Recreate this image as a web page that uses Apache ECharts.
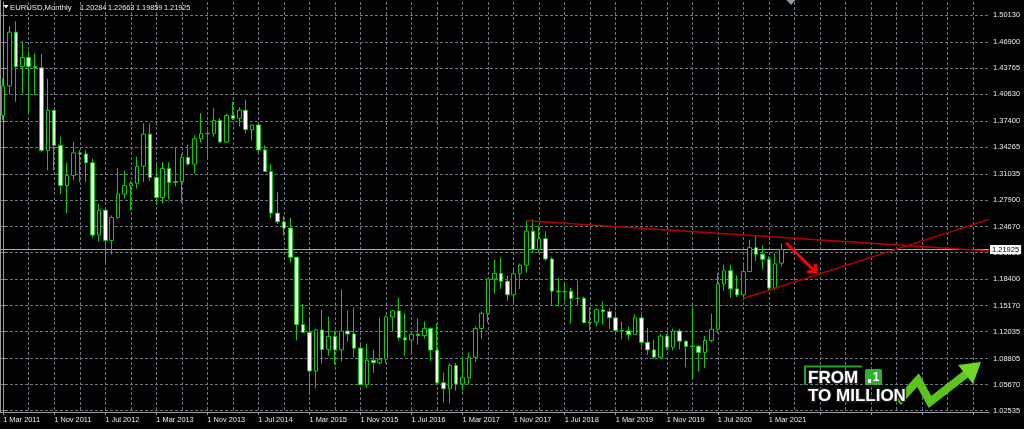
<!DOCTYPE html>
<html><head><meta charset="utf-8">
<script src="https://cdn.jsdelivr.net/npm/echarts@6/dist/echarts.min.js"></script>
<style>html,body{margin:0;padding:0;background:#000}#c{width:1024px;height:429px}</style>
</head><body><div id="c"></div>
<script>
// ---- data (EURUSD monthly, Mar 2011 .. May 2021) ----
const MONTHS = ['Jan','Feb','Mar','Apr','May','Jun','Jul','Aug','Sep','Oct','Nov','Dec'];
const SYMBOL = 'EURUSD,Monthly';
const O = [1.3806,1.4160,1.4807,1.4391,1.4502,1.4393,1.4378,1.3385,1.3865,1.3445,
 1.2961,1.3084,1.3354,1.3341,1.3236,1.2366,1.2666,1.2302,1.2577,1.2860,1.2960,1.2988,
 1.3193,1.3580,1.3058,1.2818,1.3167,1.2998,1.3010,1.3300,1.3220,1.3525,1.3585,1.3590,
 1.3745,1.3486,1.3804,1.3769,1.3868,1.3634,1.3690,1.3390,1.3131,1.2630,1.2525,1.2450,
 1.2100,1.1290,1.1196,1.0731,1.1224,1.0989,1.1147,1.0985,1.1212,1.1177,1.1006,1.0566,
 1.0860,1.0830,1.0873,1.1380,1.1454,1.1130,1.1104,1.1174,1.1157,1.1241,1.0983,1.0590,
 1.0517,1.0796,1.0575,1.0650,1.0896,1.1243,1.1425,1.1838,1.1905,1.1812,1.1647,1.1901,
 1.2005,1.2413,1.2193,1.2323,1.2078,1.1692,1.1683,1.1689,1.1603,1.1606,1.1313,1.1318,
 1.1466,1.1446,1.1371,1.1218,1.1214,1.1170,1.1370,1.1076,1.0985,1.0898,1.1151,1.1018,
 1.1212,1.1090,1.1027,1.1030,1.0954,1.1098,1.1234,1.1778,1.1936,1.1719,1.1646,1.1927,
 1.2215,1.2136,1.2075,1.1729,1.20284];
const H = [1.4249,1.4882,1.4940,1.4699,1.4578,1.4550,1.4548,1.4247,1.3874,1.3548,
 1.3234,1.3487,1.3386,1.3384,1.3284,1.2747,1.2693,1.2600,1.3172,1.3140,1.3016,1.3308,
 1.3711,1.3711,1.3203,1.3243,1.3243,1.3416,1.3345,1.3452,1.3568,1.3832,1.3622,1.3893,
 1.3775,1.3825,1.3967,1.3906,1.3993,1.3700,1.3700,1.3445,1.3222,1.2887,1.2600,1.2571,
 1.2105,1.1535,1.1387,1.1240,1.1467,1.1386,1.1216,1.1713,1.1460,1.1495,1.1043,1.1058,
 1.0986,1.1375,1.1405,1.1464,1.1616,1.1427,1.1186,1.1366,1.1328,1.1257,1.1300,1.0710,
 1.0828,1.0829,1.0906,1.0951,1.1268,1.1445,1.1846,1.2070,1.2092,1.1880,1.1961,1.2023,
 1.2537,1.2555,1.2476,1.2413,1.2097,1.1852,1.1791,1.1734,1.1815,1.1625,1.1500,1.1486,
 1.1570,1.1489,1.1448,1.1324,1.1265,1.1412,1.1412,1.1250,1.1109,1.1179,1.1176,1.1240,
 1.1239,1.1097,1.1495,1.1040,1.1154,1.1422,1.1908,1.2011,1.2011,1.1880,1.2004,1.2310,
 1.2349,1.2243,1.2113,1.2150,1.22663];
const L = [1.3748,1.4057,1.3968,1.4070,1.3837,1.4051,1.3362,1.3145,1.3146,1.2858,
 1.2624,1.3026,1.3001,1.3002,1.2334,1.2288,1.2042,1.2132,1.2562,1.2804,1.2661,1.2926,
 1.3000,1.3019,1.2750,1.2746,1.2796,1.2953,1.2755,1.3200,1.3105,1.3483,1.3295,1.3548,
 1.3477,1.3477,1.3750,1.3673,1.3590,1.3503,1.3367,1.3130,1.2571,1.2500,1.2358,1.2035,
 1.1098,1.1186,1.0462,1.0520,1.0818,1.0915,1.0808,1.0847,1.1087,1.0896,1.0562,1.0523,
 1.0710,1.0809,1.0822,1.1217,1.1097,1.0912,1.0952,1.1046,1.1122,1.0852,1.0569,1.0352,
 1.0341,1.0494,1.0494,1.0570,1.0839,1.1118,1.1312,1.1662,1.1717,1.1575,1.1554,1.1718,
 1.1916,1.2151,1.2155,1.2055,1.1510,1.1508,1.1574,1.1301,1.1525,1.1302,1.1216,1.1269,
 1.1289,1.1234,1.1176,1.1110,1.1107,1.1168,1.1028,1.0926,1.0879,1.0879,1.0981,1.0981,
 1.0992,1.0778,1.0636,1.0727,1.0767,1.1075,1.1185,1.1696,1.1612,1.1622,1.1603,1.1924,
 1.2054,1.1952,1.1704,1.1704,1.19859];
const C = [1.4160,1.4807,1.4391,1.4502,1.4393,1.4378,1.3385,1.3865,1.3445,1.2961,
 1.3084,1.3354,1.3341,1.3236,1.2366,1.2666,1.2302,1.2577,1.2860,1.2960,1.2988,1.3193,
 1.3580,1.3058,1.2818,1.3167,1.2998,1.3010,1.3300,1.3220,1.3525,1.3585,1.3590,1.3745,
 1.3486,1.3804,1.3769,1.3868,1.3634,1.3690,1.3390,1.3131,1.2630,1.2525,1.2450,1.2100,
 1.1290,1.1196,1.0731,1.1224,1.0989,1.1147,1.0985,1.1212,1.1177,1.1006,1.0566,1.0860,
 1.0830,1.0873,1.1380,1.1454,1.1130,1.1104,1.1174,1.1157,1.1241,1.0983,1.0590,1.0517,
 1.0796,1.0575,1.0650,1.0896,1.1243,1.1425,1.1838,1.1905,1.1812,1.1647,1.1901,1.2005,
 1.2413,1.2193,1.2323,1.2078,1.1692,1.1683,1.1689,1.1603,1.1606,1.1313,1.1318,1.1466,
 1.1446,1.1371,1.1218,1.1214,1.1170,1.1370,1.1076,1.0985,1.0898,1.1151,1.1018,1.1212,
 1.1090,1.1027,1.1030,1.0954,1.1098,1.1234,1.1778,1.1936,1.1719,1.1646,1.1927,1.2215,
 1.2136,1.2075,1.1729,1.2020,1.21925];
const yTicks = [1.02535,1.05670,1.08805,1.12035,1.15170,1.18400,1.21535,1.24670,
 1.27900,1.31035,1.34265,1.37400,1.40630,1.43765,1.46900,1.50130];
const Y_MIN = 1.02379, Y_MAX = 1.51694;
const SLOTS = 155;                       // 123 months of data + empty future space
const vGrid = [4,8,12,16,20,24,28,32,36,40,44,48,52,56,60,64,68,72,76,80,84,88,92,96,
 100,104,108,112,116,120,124,128,132,136,140,144,148,152];
// trend lines drawn on the chart: [month index, price]
const upperTrend = [[82, 1.2539], [154.5, 1.2174]];
const lowerTrend = [[116, 1.1603], [154.5, 1.2555]];
const arrowShaft = [[122.7, 1.2274], [127.3, 1.1925]];
const arrowHead = [[126.0, 1.1925], [127.3, 1.1925], [127.3, 1.2021]];

// ---- build ----
const N = O.length;
const categories = [];
for (let i = 0; i < SLOTS; i++) {
  const t = 2 + i;
  categories.push('1 ' + MONTHS[t % 12] + ' ' + (2011 + Math.floor(t / 12)));
}
const candles = O.map((o, i) => [o, C[i], L[i], H[i]]);
const last = [O[N-1], H[N-1], L[N-1], C[N-1]];

const FONT = 'Liberation Sans';
const GRID_COLOR = '#6a7683';
const AXIS_COLOR = '#9a9a9a';
const TXT = '#ececec';
const GREEN = '#00d200';

const graphics = [
  // left frame
  {type:'line', shape:{x1:0.5,y1:0,x2:0.5,y2:412}, style:{stroke:AXIS_COLOR, lineWidth:1}, z:10},
  // title
  {type:'polygon', shape:{points:[[3.5,5],[8.5,5],[6,8.5]]}, style:{fill:'#ffffff'}, z:10},
  {type:'text', x:10, y:7.5, style:{text:SYMBOL, fill:TXT, font:'7.7px ' + FONT, verticalAlign:'middle'}, z:10},
  // chart shift marker
  {type:'polygon', shape:{points:[[786.5,0],[795.5,0],[791,5]]}, style:{fill:'#8c9aa8'}, z:10},
  // logo
  {type:'polyline', shape:{points:[[805,385],[805,366.5],[862,366.5]]}, style:{stroke:'#22a322', lineWidth:2, fill:null}, z:10},
  {type:'text', x:808, y:378.5, style:{text:'FROM', fill:'#ffffff', stroke:'#2a2a2a', lineWidth:2, strokeFirst:true, font:'bold 17px ' + FONT, verticalAlign:'middle'}, z:11},
  {type:'rect', shape:{x:865, y:369, width:17, height:16, r:2}, style:{fill:'#2fae2f'}, z:10},
  {type:'rect', shape:{x:868, y:379, width:3, height:4}, style:{fill:'#ffffff'}, z:11},
  {type:'text', x:876, y:377.5, style:{text:'1', fill:'#ffffff', font:'bold 12px ' + FONT, align:'center', verticalAlign:'middle'}, z:11},
  {type:'text', x:808, y:396.5, style:{text:'TO MILLION', fill:'#ffffff', stroke:'#1a1a1a', lineWidth:3, strokeFirst:true, font:'bold 17px ' + FONT, verticalAlign:'middle'}, z:11},
  {type:'polyline', shape:{points:[[898,402],[918,380],[930,402],[966,374]]}, style:{stroke:'#5cc41f', lineWidth:8, fill:null, lineJoin:'miter'}, z:9},
  {type:'polygon', shape:{points:[[981,362],[958,365],[973,384]]}, style:{fill:'#6fd62a'}, z:9}
];
last.forEach((v, k) => {
  graphics.push({type:'text', x:80 + k * 28, y:7.5, style:{text:v.toFixed(5), fill:TXT, font:'7.3px ' + FONT, verticalAlign:'middle'}, z:10});
});

const option = {
  backgroundColor: '#000000',
  animation: false,
  textStyle: {fontFamily: FONT},
  grid: {left: -1.2, right: 35, top: 2, bottom: 17, containLabel: false},
  xAxis: [
    {type:'category', data:categories, boundaryGap:true,
     axisLine:{show:true, lineStyle:{color:AXIS_COLOR, width:1}},
     axisTick:{show:true, alignWithLabel:true, interval:7, length:3, lineStyle:{color:AXIS_COLOR}},
     axisLabel:{show:true, interval:7, align:'left', margin:4, color:TXT, fontSize:7.4, fontFamily:FONT,
       formatter:(v, i) => (i < N ? v : '')},
     splitLine:{show:false}},
    {type:'value', position:'top', min:-0.5, max:SLOTS - 0.5,
     axisLine:{show:false},
     axisTick:{show:false, customValues:vGrid},
     axisLabel:{show:false, customValues:vGrid},
     splitLine:{show:true, lineStyle:{color:GRID_COLOR, type:[3,2], width:1}}}
  ],
  yAxis: {type:'value', position:'right', min:Y_MIN, max:Y_MAX,
    axisLine:{show:true, lineStyle:{color:AXIS_COLOR, width:1}},
    axisTick:{show:true, length:3, customValues:yTicks, lineStyle:{color:AXIS_COLOR}},
    axisLabel:{show:true, customValues:yTicks, margin:4, color:TXT, fontSize:7.5, fontFamily:FONT,
      formatter:(v) => v.toFixed(5)},
    splitLine:{show:true, lineStyle:{color:GRID_COLOR, type:[3,2], width:1}}},
  series: [
    {type:'line', xAxisIndex:1, data:[], silent:true,
     markLine:{silent:true, symbol:'none', z:1, animation:false, precision:5,
       lineStyle:{color:'#a0a6ac', width:1, type:'solid'},
       label:{show:true, position:'end', distance:1, formatter:() => C[N-1].toFixed(5),
         backgroundColor:'#ffffff', color:'#000000', fontSize:7.5, fontFamily:FONT, padding:[1,2,0,2]},
       data:[{yAxis: C[N-1]}]}},
    {type:'candlestick', xAxisIndex:0, data:candles, barWidth:4, z:2, silent:true,
     itemStyle:{color:'#000000', color0:'#ffffff', borderColor:GREEN, borderColor0:GREEN, borderWidth:1}},
    {type:'line', xAxisIndex:1, data:upperTrend, symbol:'none', silent:true, z:3,
     lineStyle:{color:'#b80000', width:1.4}},
    {type:'line', xAxisIndex:1, data:lowerTrend, symbol:'none', silent:true, z:3,
     lineStyle:{color:'#b80000', width:1.4}},
    {type:'line', xAxisIndex:1, data:arrowShaft, symbol:'none', silent:true, z:4,
     lineStyle:{color:'#ff0000', width:3}},
    {type:'line', xAxisIndex:1, data:arrowHead, symbol:'none', silent:true, z:4,
     lineStyle:{color:'#ff0000', width:3, join:'miter'}}
  ],
  graphic: graphics
};
const chart = echarts.init(document.getElementById('c'));
chart.setOption(option);
</script></body></html>
